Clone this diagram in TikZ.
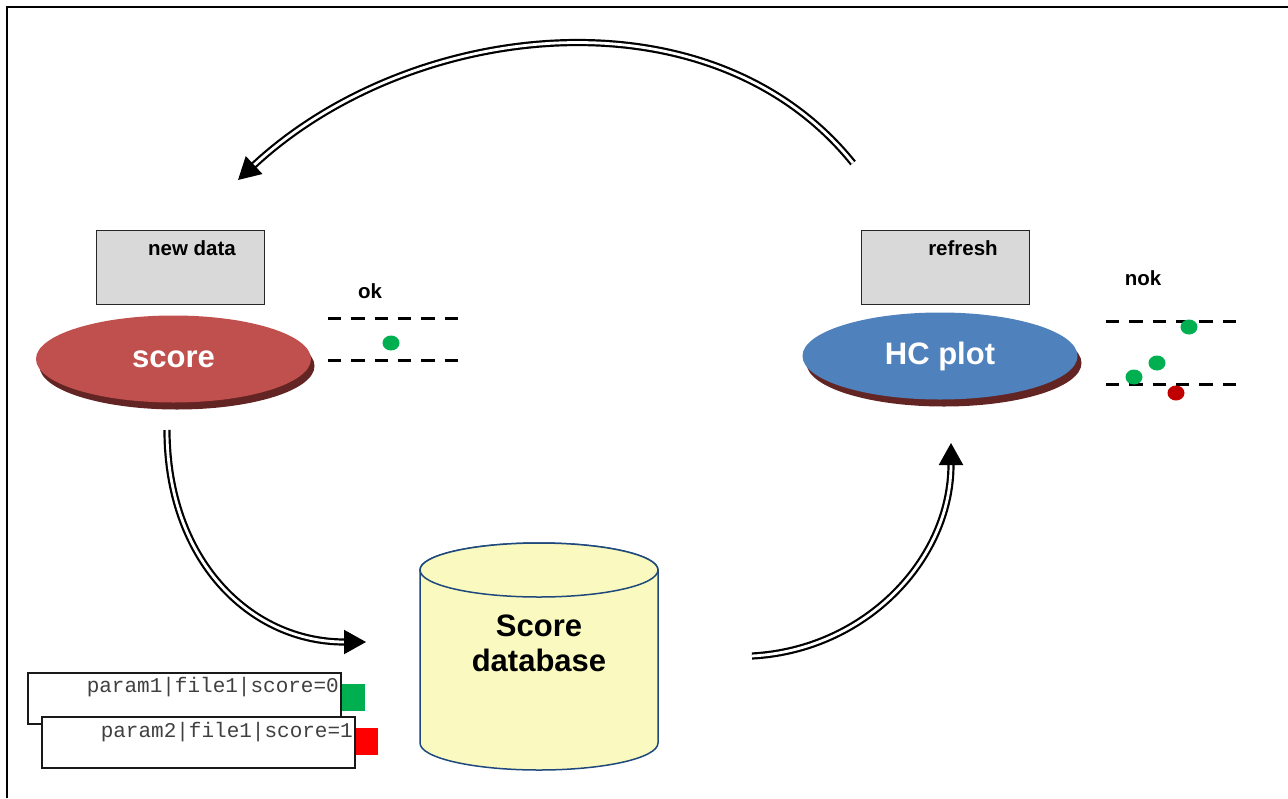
\documentclass[tikz,border=0pt]{standalone}
\usepackage{fontspec}
\setmainfont{Liberation Sans}
\setmonofont{Liberation Mono}
\usetikzlibrary{arrows.meta,shapes.geometric}
\definecolor{boxgray}{HTML}{D9D9D9}
\definecolor{scorered}{HTML}{C0504D}
\definecolor{shadowred}{HTML}{632523}
\definecolor{hcblue}{HTML}{4F81BD}
\definecolor{dbyellow}{HTML}{FAFAC0}
\definecolor{dbblue}{HTML}{1F497D}
\definecolor{okgreen}{HTML}{00B050}
\definecolor{nokred}{HTML}{C00000}
\definecolor{sqred}{HTML}{FF0000}
\begin{document}
\begin{tikzpicture}[x=1pt,y=-1pt,
  labelbox/.style={draw=black!85, line width=1.8pt, fill=boxgray, minimum width=168pt, minimum height=74pt, inner sep=0pt},
  smalltext/.style={font=\bfseries\fontsize{20.5}{24}\selectfont, inner sep=0pt, anchor=base},
  bigtext/.style={font=\bfseries\fontsize{31}{35}\selectfont, inner sep=0pt},
  blob/.style={ellipse, minimum width=275pt, minimum height=87pt, inner sep=0pt},
  dashline/.style={line width=3pt, dash pattern=on 13.3pt off 10pt},
  logbox/.style={draw=black!90, line width=2pt, fill=white, minimum width=313pt, minimum height=51pt, inner sep=0pt},
  logtext/.style={font=\ttfamily\fontsize{21}{24}\selectfont, text=black!75, inner sep=0pt, anchor=base east},
  flow/.style={line width=2.2pt, double=white, double distance=2.8pt, -{Triangle[length=22pt,width=24pt]}},
]
\useasboundingbox (0,0) rectangle (1288,798);
\draw[line width=2pt] (7,798) -- (7,7) -- (1288,7);

% new data / score
\node[labelbox] (newdatabox) at (180.5,267.5) {};
\node[smalltext] (newdata) at (192,255) {new data};
\node[blob, fill=shadowred] (scoreshadow) at (177,366) {};
\node[blob, fill=scorered, text=white, font=\bfseries\fontsize{31}{35}\selectfont] (score) at (173.5,359) {score};

% ok
\node[smalltext] (ok) at (370,298) {ok};
\draw[dashline] (328,318) -- (458,318);
\draw[dashline] (328,360) -- (458,360);
\fill[okgreen] (391,343) ellipse [x radius=8.5pt, y radius=7.5pt];

% refresh / HC plot
\node[labelbox] (refreshbox) at (945.5,267.5) {};
\node[smalltext] (refresh) at (963,255) {refresh};
\node[blob, fill=shadowred] (hcshadow) at (944,363) {};
\node[blob, fill=hcblue, text=white, font=\bfseries\fontsize{31}{35}\selectfont] (hc) at (940,356) {HC plot};

% nok
\node[smalltext] (nok) at (1143,285) {nok};
\draw[dashline] (1106,321) -- (1236,321);
\draw[dashline] (1106,384) -- (1236,384);
\fill[okgreen] (1189,327) ellipse [x radius=8.5pt, y radius=7.5pt];
\fill[okgreen] (1157,363) ellipse [x radius=8.5pt, y radius=7.5pt];
\fill[okgreen] (1134,377) ellipse [x radius=8.5pt, y radius=7.5pt];
\fill[nokred] (1176,393) ellipse [x radius=8.5pt, y radius=7.5pt];

% database cylinder
\draw[dbblue, fill=dbyellow, line width=1.5pt] (420,570) -- (420,743)
  arc[start angle=180, end angle=360, x radius=119pt, y radius=27pt] -- (658,570)
  arc[start angle=0, end angle=180, x radius=119pt, y radius=27pt] -- cycle;
\draw[dbblue, fill=dbyellow, line width=1.5pt] (539,570) ellipse [x radius=119pt, y radius=27pt];
\node[minimum width=238pt, minimum height=227pt, inner sep=0pt] (db) at (539,656) {};
\node[bigtext, anchor=base] (dbl1) at (539,636) {Score};
\node[bigtext, anchor=base] (dbl2) at (539,671) {database};

% log boxes
\node[logbox] (log1) at (184,698.5) {};
\node[logtext] (log1t) at (339,692) {param1|file1|score=0};
\node[fill=okgreen, minimum width=23pt, minimum height=27pt, inner sep=0pt] (sq1) at (353.5,697.5) {};
\node[logbox] (log2) at (198,742.5) {};
\node[logtext] (log2t) at (353,737) {param2|file1|score=1};
\node[fill=sqred, minimum width=22pt, minimum height=27pt, inner sep=0pt] (sq2) at (367,741.5) {};

% connectors
\coordinate (topstart) at (853,163);
\coordinate (topend) at (238,180);
\coordinate (leftstart) at (167,430);
\coordinate (leftend) at (366,642);
\coordinate (rightstart) at (752,656);
\coordinate (rightend) at (951,443);
\draw[flow] (topstart) .. controls (710,-15) and (410,20) .. (topend);
\draw[flow] (leftstart) .. controls (167,560) and (250,642) .. (leftend);
\draw[flow] (rightstart) .. controls (865,650) and (951,560) .. (rightend);
\end{tikzpicture}
\end{document}
